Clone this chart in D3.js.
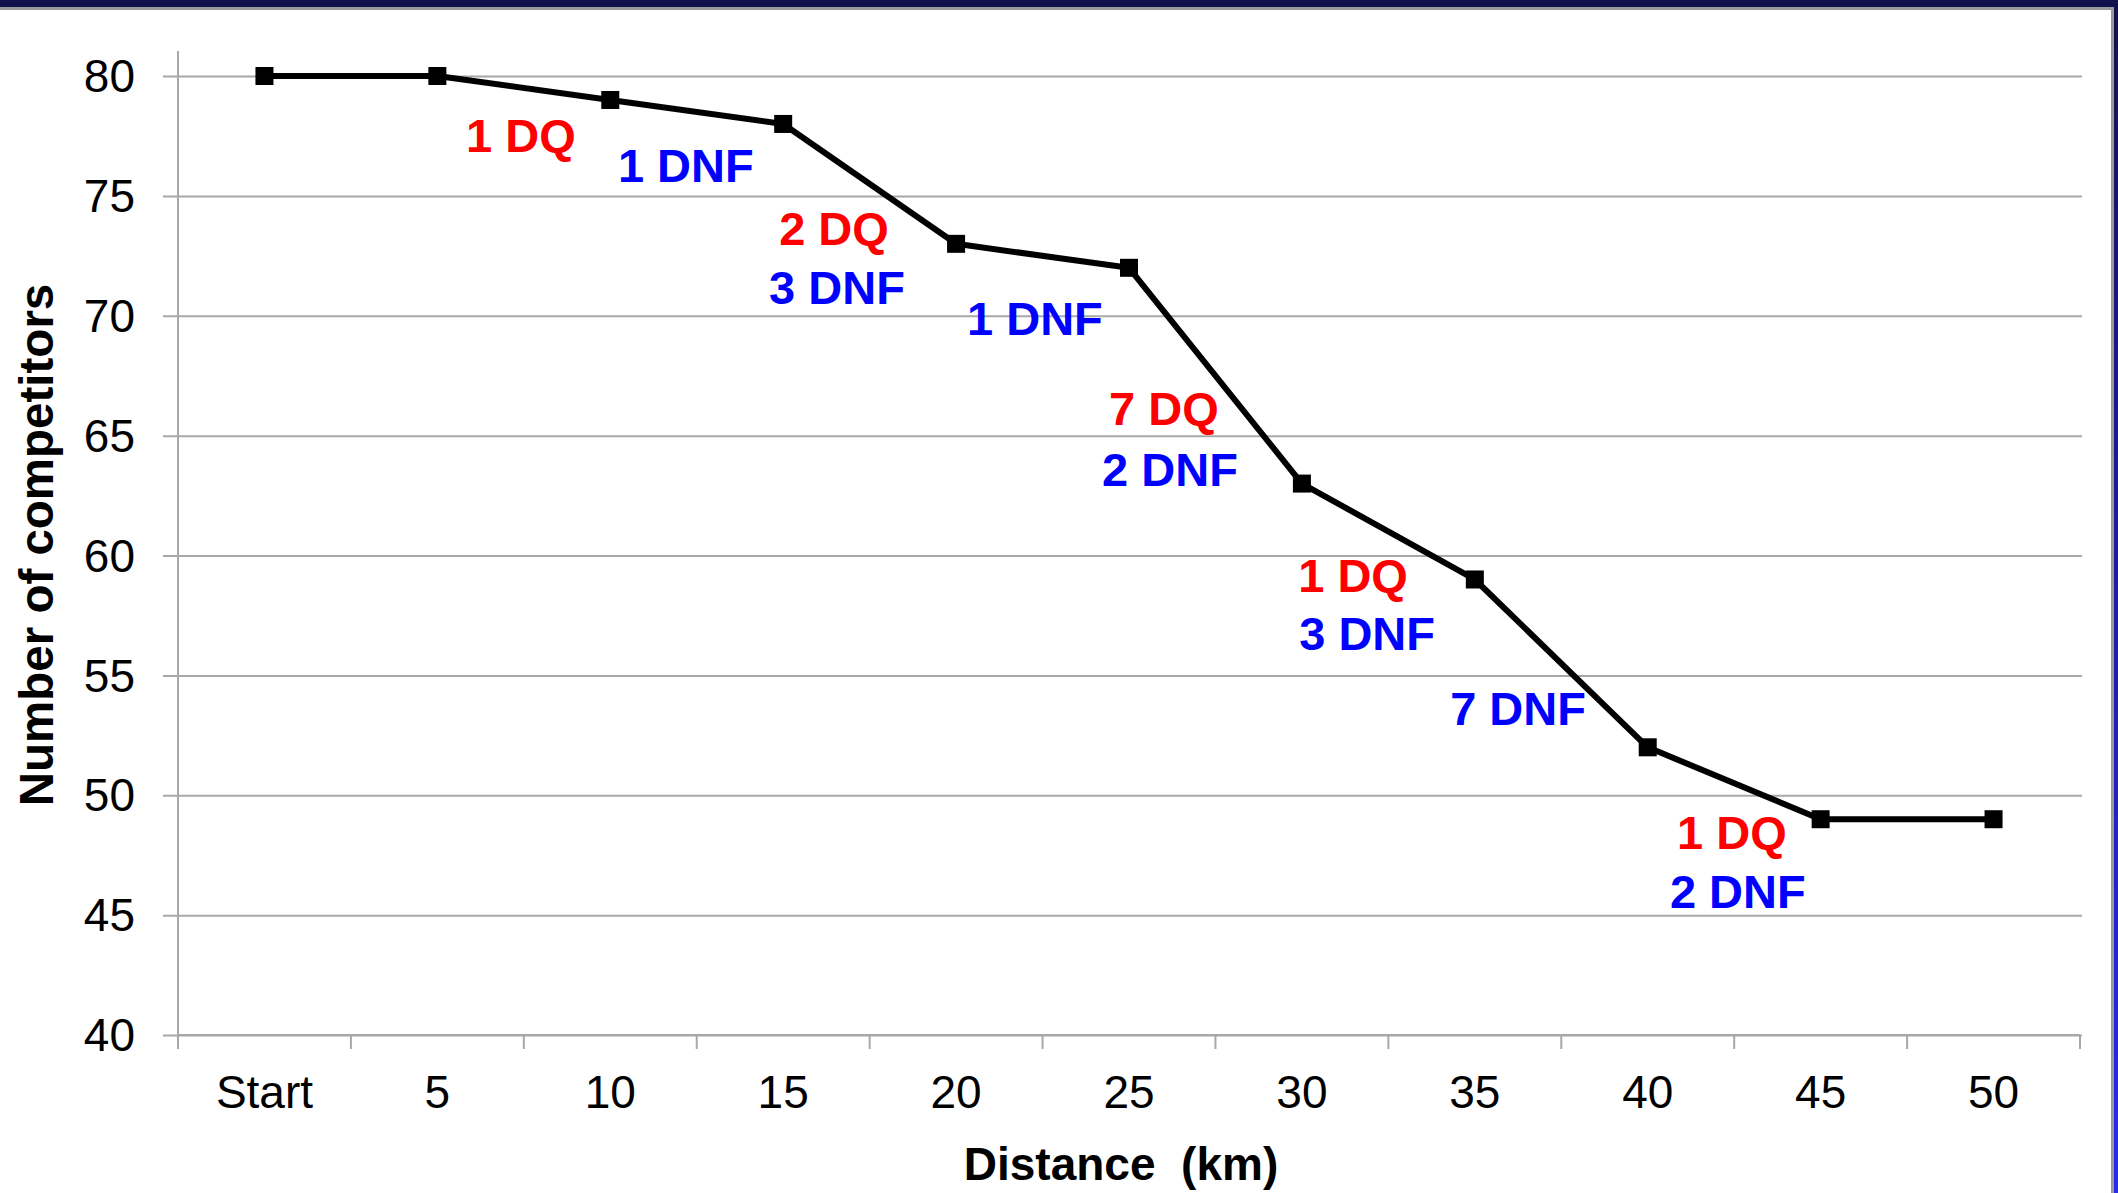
<!DOCTYPE html>
<html>
<head>
<meta charset="utf-8">
<script src="https://cdn.jsdelivr.net/npm/d3@7"></script>
<style>
  html, body { margin: 0; padding: 0; background: #ffffff; }
  svg { display: block; }
  text { font-family: "Liberation Sans", Arial, sans-serif; }
</style>
</head>
<body>
<script>
// ---- data ----
const categories = ["Start", "5", "10", "15", "20", "25", "30", "35", "40", "45", "50"];
const competitors = [80, 80, 79, 78, 73, 72, 63, 59, 52, 49, 49];
const yTicks = [40, 45, 50, 55, 60, 65, 70, 75, 80];
// annotations: text, kind, anchor (category-index units, value units)
const annoText = ["1 DQ", "1 DNF", "2 DQ", "3 DNF", "1 DNF", "7 DQ", "2 DNF", "1 DQ", "3 DNF", "7 DNF", "1 DQ", "2 DNF"];
const annoKind = ["DQ", "DNF", "DQ", "DNF", "DNF", "DQ", "DNF", "DQ", "DNF", "DNF", "DQ", "DNF"];
const annoAt   = [1.483, 2.437, 3.294, 3.311, 4.456, 5.202, 5.237, 6.296, 6.377, 7.250, 8.487, 8.521];
const annoVal  = [76.83, 75.58, 72.95, 70.49, 69.20, 65.45, 62.90, 58.48, 56.06, 52.94, 47.77, 45.31];
const xTitle = "Distance (km)";
const yTitle = "Number of competitors";

(function () {
// ---- layout ----
const W = 2118, H = 1193;
const pL = 178, pR = 2080, pT = 76, pB = 1035;
const svg = d3.select("body").append("svg").attr("width", W).attr("height", H);

// frame decoration
const defs = svg.append("defs");
const grad = defs.append("linearGradient").attr("id", "rb").attr("x1", 0).attr("y1", 0).attr("x2", 0).attr("y2", 1);
grad.append("stop").attr("offset", "0%").attr("stop-color", "#12124e");
grad.append("stop").attr("offset", "100%").attr("stop-color", "#2a2af0");
svg.append("rect").attr("x", 0).attr("y", 0).attr("width", W).attr("height", H).attr("fill", "#ffffff");
svg.append("rect").attr("x", 2114).attr("y", 0).attr("width", 4).attr("height", H).attr("fill", "url(#rb)");
svg.append("rect").attr("x", 2111).attr("y", 8).attr("width", 3).attr("height", H).attr("fill", "#9a9a9a");
svg.append("rect").attr("x", 0).attr("y", 0).attr("width", W).attr("height", 7).attr("fill", "#10104a");
svg.append("rect").attr("x", 0).attr("y", 7).attr("width", 2114).attr("height", 3).attr("fill", "#9a9a9a");

// scales
const x = d3.scaleBand().domain(categories).range([pL, pR]).paddingInner(0).paddingOuter(0);
const xi = d3.scaleLinear().domain([-0.5, categories.length - 0.5]).range([pL, pR]);
const y = d3.scaleLinear().domain([40, 80]).range([pB, pT]);

const gridColor = "#a8a8a8";

// horizontal gridlines + y ticks
const yAxis = d3.axisLeft(y).tickValues(yTicks).tickSizeOuter(0);
const gy = svg.append("g").attr("transform", `translate(${pL - 15},0)`).call(yAxis);
gy.select(".domain").remove();
gy.selectAll(".tick line").attr("stroke", gridColor).attr("stroke-width", 2)
  .attr("x1", 0).attr("x2", pR + 2 - (pL - 15));
gy.selectAll(".tick text").attr("font-size", 46).attr("fill", "#000")
  .attr("x", 135 - (pL - 15)).attr("text-anchor", "end").attr("dy", "0.34em");

// y axis line
svg.append("line").attr("x1", pL).attr("x2", pL).attr("y1", 51).attr("y2", pB + 14)
  .attr("stroke", gridColor).attr("stroke-width", 2);

// x axis: labels via band axis, ticks at boundaries
const xAxis = d3.axisBottom(x).tickSize(0).tickPadding(0);
const gx = svg.append("g").attr("transform", `translate(0,${pB})`).call(xAxis);
gx.select(".domain").remove();
gx.selectAll(".tick text").attr("font-size", 46).attr("fill", "#000").attr("dy", null).attr("y", 73);
svg.append("line").attr("x1", pL).attr("x2", pR).attr("y1", pB).attr("y2", pB)
  .attr("stroke", gridColor).attr("stroke-width", 2);
const bounds = d3.range(categories.length + 1).map(i => xi(i - 0.5));
svg.append("g").selectAll("line").data(bounds).join("line")
  .attr("x1", d => d).attr("x2", d => d).attr("y1", pB).attr("y2", pB + 14)
  .attr("stroke", gridColor).attr("stroke-width", 2);

// line
const pts = categories.map((c, i) => ({ c, v: competitors[i] }));
const line = d3.line().x(d => x(d.c) + x.bandwidth() / 2).y(d => y(d.v));
svg.append("path").datum(pts).attr("d", line).attr("fill", "none")
  .attr("stroke", "#000").attr("stroke-width", 6).attr("stroke-linejoin", "round");
const ms = 18;
svg.append("g").selectAll("rect").data(pts).join("rect")
  .attr("x", d => x(d.c) + x.bandwidth() / 2 - ms / 2)
  .attr("y", d => y(d.v) - ms / 2)
  .attr("width", ms).attr("height", ms).attr("fill", "#000");

// annotations
const annos = annoText.map((t, i) => ({ t, k: annoKind[i], a: annoAt[i], v: annoVal[i] }));
svg.append("g").selectAll("text").data(annos).join("text")
  .attr("x", d => xi(d.a)).attr("y", d => y(d.v))
  .attr("text-anchor", "middle").attr("font-size", 47).attr("font-weight", "bold")
  .attr("fill", d => d.k === "DQ" ? "#ff0000" : "#0000ff")
  .text(d => d.t);

// axis titles
svg.append("text").attr("x", 1121).attr("y", 1180).attr("text-anchor", "middle")
  .attr("font-size", 46).attr("font-weight", "bold").attr("fill", "#000")
  .style("white-space", "pre").text(xTitle.replace(" ", "  "));
svg.append("text").attr("transform", "translate(53,545) rotate(-90)").attr("text-anchor", "middle")
  .attr("font-size", 47.5).attr("font-weight", "bold").attr("fill", "#000").text(yTitle);
})();
</script>
</body>
</html>
